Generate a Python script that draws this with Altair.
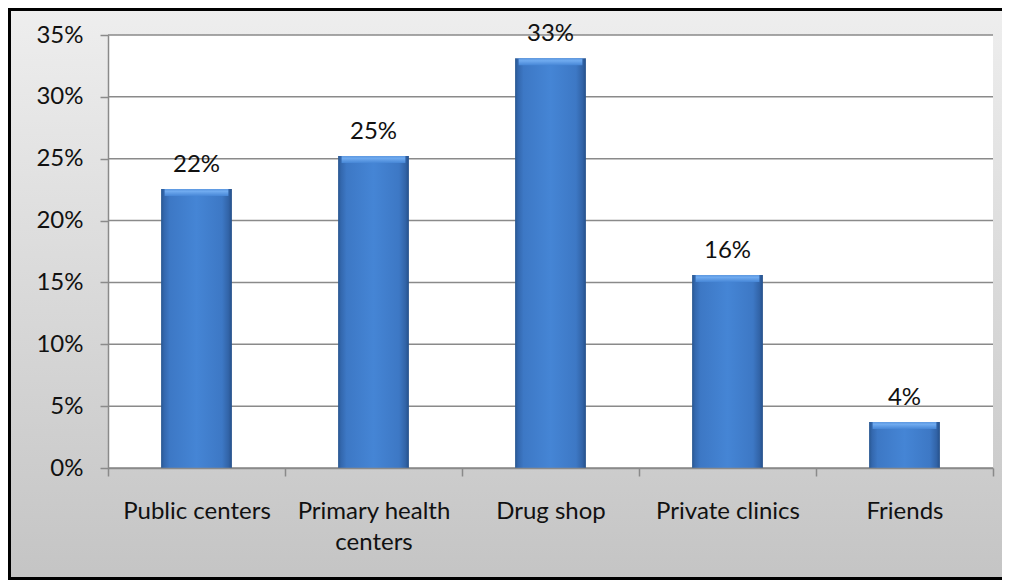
import altair as alt
import pandas as pd

categories = ["Public centers", "Primary health centers", "Drug shop", "Private clinics", "Friends"]
values = [0.2255, 0.2522, 0.3312, 0.156, 0.0372]
value_labels = ["22%", "25%", "33%", "16%", "4%"]
y_ticks = [0, 0.05, 0.10, 0.15, 0.20, 0.25, 0.30, 0.35]

W, H = 885, 433
FONT = "Lato"
FS = 24
GRID = "#8a8a8a"

df = pd.DataFrame({"category": categories, "value": values, "label": value_labels})
grid_df = pd.DataFrame({"tick": y_ticks})

xscale = alt.Scale(domain=categories, paddingInner=0, paddingOuter=0)
yscale = alt.Scale(domain=[0, 0.35], nice=False, zero=True)

x_axis = alt.Axis(
    title=None, tickBand="extent", tickSize=8, tickColor=GRID, tickWidth=1.5,
    domainColor=GRID, domainWidth=1.5, labelFont=FONT, labelFontSize=FS,
    labelColor="#111111", labelAngle=0, labelPadding=23, labelLineHeight=31,
    labelBaseline="top", grid=False, zindex=1,
    labelExpr="datum.label == 'Primary health centers' ? ['Primary health', 'centers'] : datum.label",
)
y_axis = alt.Axis(
    title=None, values=y_ticks, format=".0%", tickSize=8, tickColor=GRID, tickWidth=1.5,
    domainColor=GRID, domainWidth=1.5, labelFont=FONT, labelFontSize=FS,
    labelColor="#111111", labelPadding=17, grid=False, zindex=1,
)

one = alt.Data(values=[{}])

bg = alt.Chart(one).mark_rect(
    fill=alt.Gradient(
        gradient="linear",
        stops=[alt.GradientStop(color="#efefef", offset=0), alt.GradientStop(color="#c3c3c3", offset=1)],
        x1=0, x2=0, y1=0, y2=1,
    ),
).encode(x=alt.value(-110), x2=alt.value(W + 60), y=alt.value(-40), y2=alt.value(H + 130))

border_left = alt.Chart(one).mark_rule(color="black", strokeWidth=3).encode(
    x=alt.value(-98.5), y=alt.value(-27), y2=alt.value(H + 112)
)
border_top = alt.Chart(one).mark_rule(color="black", strokeWidth=3).encode(
    x=alt.value(-100), x2=alt.value(W + 60), y=alt.value(-25.5)
)
border_bottom = alt.Chart(one).mark_rule(color="black", strokeWidth=3).encode(
    x=alt.value(-100), x2=alt.value(W + 60), y=alt.value(H + 110.5)
)

plot_bg = alt.Chart(one).mark_rect(fill="white").encode(
    x=alt.value(0), x2=alt.value(W), y=alt.value(0), y2=alt.value(H)
)

grid = alt.Chart(grid_df).mark_rule(color=GRID, strokeWidth=1.5).encode(
    y=alt.Y("tick:Q", scale=yscale, axis=y_axis)
)

bar_fill = alt.Gradient(
    gradient="linear",
    stops=[
        alt.GradientStop(color="#28568f", offset=0),
        alt.GradientStop(color="#3367ad", offset=0.04),
        alt.GradientStop(color="#3d78c5", offset=0.12),
        alt.GradientStop(color="#4585d5", offset=0.5),
        alt.GradientStop(color="#3d78c5", offset=0.86),
        alt.GradientStop(color="#3264a8", offset=0.95),
        alt.GradientStop(color="#25508a", offset=1),
    ],
    x1=0, x2=1, y1=0, y2=0,
)

bars = alt.Chart(df).mark_bar(width=alt.RelativeBandSize(0.4), fill=bar_fill).encode(
    x=alt.X("category:N", scale=xscale, sort=categories, axis=x_axis),
    y=alt.Y("value:Q", scale=yscale, axis=y_axis),
)

bevel_fill = alt.Gradient(
    gradient="linear",
    stops=[
        alt.GradientStop(color="#5d98e0", offset=0),
        alt.GradientStop(color="#6faaef", offset=0.35),
        alt.GradientStop(color="#4686d6", offset=1),
    ],
    x1=0, x2=0, y1=0, y2=1,
)
bevel = alt.Chart(df).mark_bar(width=alt.RelativeBandSize(0.36), fill=bevel_fill, y2Offset=7).encode(
    x=alt.X("category:N", scale=xscale, sort=categories, axis=x_axis),
    y=alt.Y("value:Q", scale=yscale, axis=y_axis),
    y2="value:Q",
)

text = alt.Chart(df).mark_text(
    font=FONT, fontSize=FS, baseline="alphabetic", dy=-17, color="#111111"
).encode(
    x=alt.X("category:N", scale=xscale, sort=categories, axis=x_axis),
    y=alt.Y("value:Q", scale=yscale, axis=y_axis),
    text="label:N",
)

chart = alt.layer(bg, border_left, border_top, border_bottom, plot_bg, grid, bars, bevel, text).properties(
    width=W, height=H,
    autosize=alt.AutoSizeParams(type="none"),
    padding={"left": 100, "top": 27, "right": 9, "bottom": 112},
).configure_view(stroke=None)

chart.save("out.html", embed_options={"renderer": "svg", "actions": False})
